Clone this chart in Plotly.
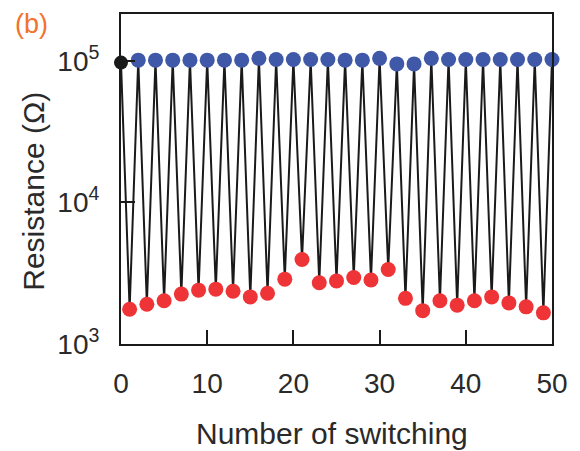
import plotly.graph_objects as go

# Data
start_x = [0]
start_r = [9.7e4]

low_x = list(range(1, 50, 2))  # odd switching numbers (red, LRS)
low_r = [1760, 1910, 2020, 2250, 2400, 2440, 2360, 2150, 2280, 2870,
         3950, 2710, 2790, 2950, 2830, 3360, 2100, 1720, 2020, 1880,
         2020, 2150, 1950, 1830, 1660]

high_x = list(range(2, 51, 2))  # even switching numbers (blue, HRS)
high_r = [1.01e5, 1.01e5, 1.01e5, 1.01e5, 1.01e5, 1.01e5, 1.01e5, 1.04e5,
          1.02e5, 1.02e5, 1.02e5, 1.02e5, 1.01e5, 1.01e5, 1.04e5, 0.95e5,
          0.95e5, 1.04e5, 1.02e5, 1.02e5, 1.02e5, 1.02e5, 1.02e5, 1.02e5,
          1.02e5]

x_ticks = [0, 10, 20, 30, 40, 50]
y_ticks = [1e3, 1e4, 1e5]
y_ticktext = ["10<sup>3</sup>", "10<sup>4</sup>", "10<sup>5</sup>"]

# combined sequence for the connecting line
pts = sorted(list(zip(start_x, start_r)) + list(zip(low_x, low_r)) + list(zip(high_x, high_r)))
line_x = [p[0] for p in pts]
line_r = [p[1] for p in pts]

FONT = "Arial"
TXT = "#2a2a2a"

fig = go.Figure()
fig.add_trace(go.Scatter(x=line_x, y=line_r, mode="lines",
                         line=dict(color="#1a1a1a", width=2),
                         cliponaxis=False, showlegend=False))
fig.add_trace(go.Scatter(x=start_x, y=start_r, mode="markers",
                         marker=dict(color="#1a1a1a", size=14),
                         cliponaxis=False, showlegend=False))
fig.add_trace(go.Scatter(x=low_x, y=low_r, mode="markers",
                         marker=dict(color="#ee3436", size=15),
                         cliponaxis=False, showlegend=False))
fig.add_trace(go.Scatter(x=high_x, y=high_r, mode="markers",
                         marker=dict(color="#4058a8", size=15),
                         cliponaxis=False, showlegend=False))

fig.update_layout(
    width=580, height=451,
    margin=dict(l=121, r=17, t=13, b=107),
    paper_bgcolor="white", plot_bgcolor="white",
    font=dict(family=FONT, color=TXT),
    xaxis=dict(range=[0, 50], tickvals=x_ticks, ticks="inside", ticklen=14,
               tickwidth=2, tickcolor="#1a1a1a", linecolor="#1a1a1a", linewidth=2,
               mirror=True, showgrid=False, zeroline=False,
               tickfont=dict(size=28, family=FONT, color=TXT),
               ticklabelstandoff=13),
    yaxis=dict(type="log", range=[3, 5.33], tickvals=y_ticks, ticktext=y_ticktext,
               ticks="inside", ticklen=14, tickwidth=2, tickcolor="#1a1a1a",
               linecolor="#1a1a1a", linewidth=2, mirror=True, showgrid=False,
               zeroline=False, tickfont=dict(size=28, family=FONT, color=TXT),
               ticklabelstandoff=14),
    annotations=[
        dict(text="Number of switching", xref="paper", yref="paper",
             x=0.49, y=-0.272, xanchor="center", yanchor="middle", showarrow=False,
             font=dict(size=30, family=FONT, color=TXT)),
        dict(text="Resistance (Ω)", xref="paper", yref="paper", textangle=-90,
             x=-0.2036, y=0.462, xanchor="center", yanchor="middle", showarrow=False,
             font=dict(size=30, family=FONT, color=TXT)),
        dict(text="(b)", xref="paper", yref="paper",
             x=-0.208, y=0.97, xanchor="center", yanchor="middle", showarrow=False,
             font=dict(size=27, family=FONT, color="#f2722e")),
    ],
)

fig.write_html("out.html")
